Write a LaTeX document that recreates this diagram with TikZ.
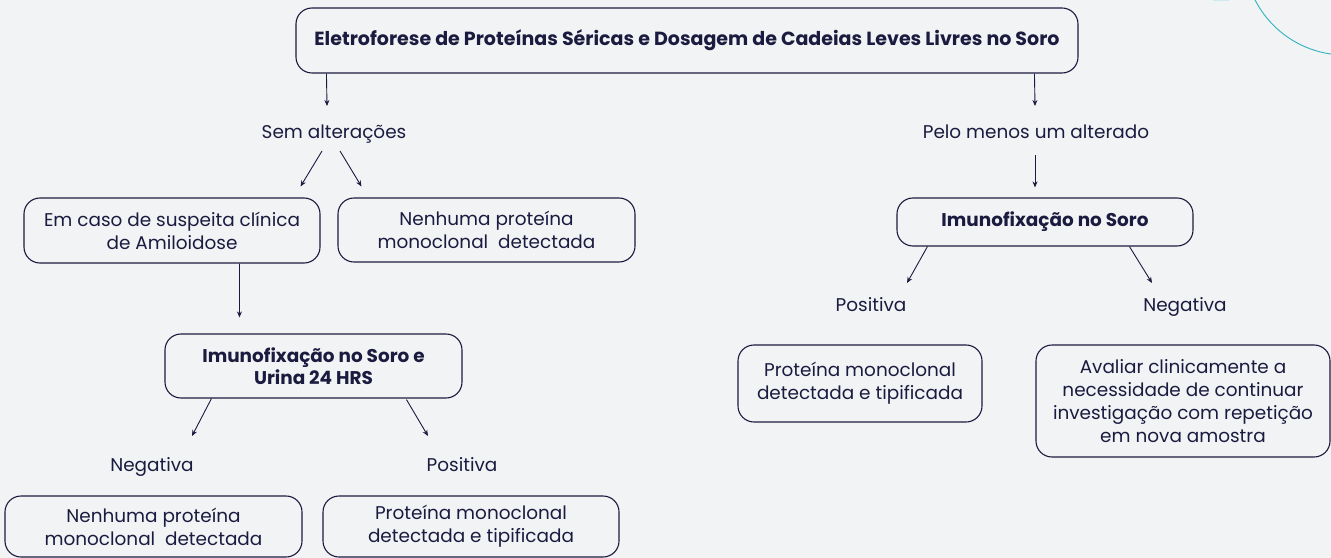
\documentclass[tikz,border=0pt]{standalone}
\usepackage{fontspec}
\setmainfont{Poppins}
\usetikzlibrary{arrows.meta,calc}
\definecolor{bg}{HTML}{F2F3F5}
\definecolor{ink}{HTML}{1B1B40}
\definecolor{teal}{HTML}{2FB3BE}
\definecolor{lightcyan}{HTML}{CDEBEF}
\tikzset{
  box/.style={draw=ink, line width=1.1bp, rounded corners=16bp, align=center, text=ink,
    font=\fontsize{18.5}{23}\selectfont, inner sep=0pt},
  tbox/.style={box, font=\bfseries\fontsize{18.5}{22}\selectfont},
  lbl/.style={text=ink, font=\fontsize{18.5}{23}\selectfont, inner sep=0pt,
    text height=13bp, text depth=4bp},
  arr/.style={draw=ink, line width=0.9bp, -{Stealth[length=6bp,width=5bp]}}
}
\begin{document}
\begin{tikzpicture}[x=1bp,y=-1bp]
\useasboundingbox (0,0) rectangle (1331,558);
\fill[bg] (0,0) rectangle (1331,558);
% decoration
\fill[lightcyan] (1213,0) rectangle (1229,1.5);
\begin{scope}
\clip (0,0) rectangle (1331,558);
\draw[teal, line width=0.9bp] (1345,-46) circle (101);
\end{scope}

% nodes
\node[tbox, font=\bfseries\fontsize{19.1}{22}\selectfont, minimum width=782bp, minimum height=65bp] (top) at (687,40.5)
  {Eletroforese de Proteínas Séricas e Dosagem de Cadeias Leves Livres no Soro};
\node[lbl] (sem) at (334,134) {Sem alterações};
\node[lbl] (pelo) at (1036,134) {Pelo menos um alterado};
\node[box, minimum width=296bp, minimum height=65bp] (caso) at (172,230.5)
  {Em caso de suspeita clínica\\de Amiloidose};
\node[box, minimum width=297bp, minimum height=64bp] (nen1) at (486.5,230)
  {Nenhuma proteína\\monoclonal\ \ detectada};
\node[tbox, minimum width=297bp, minimum height=64bp] (imu2) at (313.5,366)
  {Imunofixação no Soro e\\Urina 24 HRS};
\node[lbl] (neg1) at (152,467) {Negativa};
\node[lbl] (pos1) at (462,467) {Positiva};
\node[box, minimum width=297bp, minimum height=61bp] (nen2) at (153.5,526.5)
  {Nenhuma proteína\\monoclonal\ \ detectada};
\node[box, minimum width=296bp, minimum height=61bp] (pro1) at (471,526.5)
  {Proteína monoclonal\\detectada e tipificada};
\node[tbox, minimum width=296bp, minimum height=48bp] (imu1) at (1045,222)
  {Imunofixação no Soro};
\node[lbl] (pos2) at (871,307) {Positiva};
\node[lbl] (neg2) at (1185,307) {Negativa};
\node[box, minimum width=244bp, minimum height=77bp] (pro2) at (860,383.5)
  {Proteína monoclonal\\detectada e tipificada};
\node[box, minimum width=294bp, minimum height=112bp] (ava) at (1183,401)
  {Avaliar clinicamente a\\necessidade de continuar\\investigação com repetição\\em nova amostra};

% connectors
\draw[arr] ($(top.south west)+(31,0)$) -- ($(sem.center)+(-7,-28)$);
\draw[arr] ($(top.south west)+(739,0)$) -- ($(pelo.center)+(-1,-28)$);
\draw[arr] ($(sem.center)+(-12,17)$) -- ($(caso.north east)+(-20,-11)$);
\draw[arr] ($(sem.center)+(6,17)$) -- ($(nen1.north west)+(24,-11)$);
\draw[arr] ($(pelo.center)+(-1,21)$) -- ($(imu1.north)+(-10,-10)$);
\draw[arr] ($(caso.south west)+(216,0)$) -- ($(imu2.north west)+(75,-16)$);
\draw[arr] ($(imu2.south west)+(47,0)$) -- ($(neg1.center)+(40,-31)$);
\draw[arr] ($(imu2.south west)+(242,1)$) -- ($(pos1.center)+(-34,-31)$);
\draw[arr] ($(imu1.south west)+(31,0)$) -- ($(pos2.center)+(36,-24)$);
\draw[arr] ($(imu1.south west)+(233,0)$) -- ($(neg2.center)+(-33,-24)$);
\end{tikzpicture}
\end{document}
